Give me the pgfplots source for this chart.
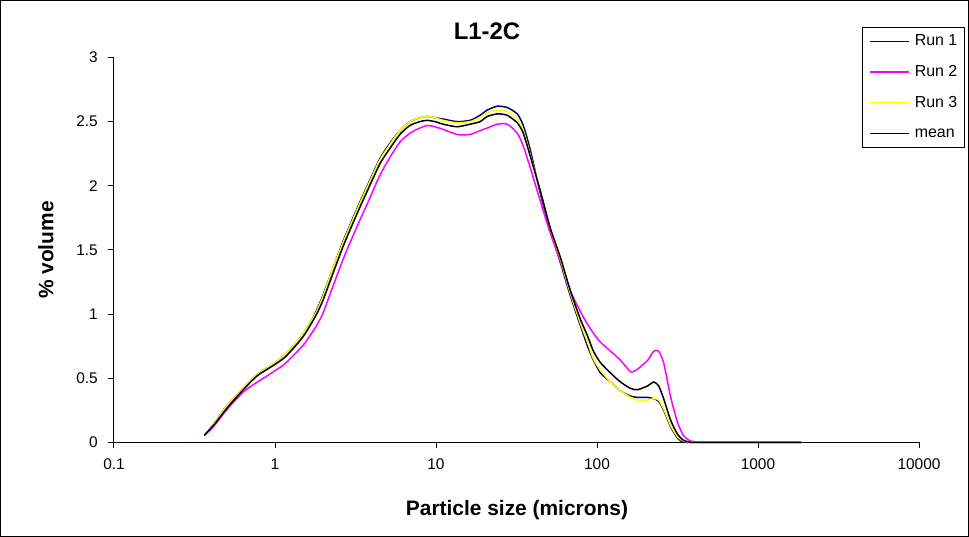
\documentclass[border=0pt]{standalone}
\usepackage{pgfplots}
\usepackage{pgfplotstable}
\pgfplotsset{compat=1.18}
\usepackage{fontspec}
\setmainfont{Liberation Sans}
\definecolor{runone}{RGB}{0,0,128}
\definecolor{runtwo}{RGB}{255,0,255}
\definecolor{runthree}{RGB}{255,255,0}
\pgfplotstableread{
x      r1    r2    r3    mean
0.364  0.054 0.054 0.054 0.054
0.420  0.15  0.13  0.15  0.14
0.506  0.29  0.26  0.29  0.27
0.646  0.43  0.40  0.43  0.42
0.778  0.53  0.47  0.53  0.52
0.951  0.60  0.54  0.60  0.59
1.146  0.68  0.61  0.68  0.66
1.381  0.79  0.71  0.79  0.77
1.527  0.86  0.77  0.86  0.84
1.688  0.95  0.85  0.95  0.93
1.814  1.03  0.91  1.02  1.00
1.977  1.14  1.00  1.13  1.10
2.281  1.35  1.21  1.35  1.31
2.635  1.56  1.42  1.55  1.52
2.911  1.69  1.55  1.68  1.65
3.360  1.87  1.73  1.86  1.83
3.716  1.99  1.85  1.98  1.95
4.477  2.21  2.08  2.20  2.17
5.166  2.33  2.22  2.32  2.29
5.966  2.43  2.34  2.43  2.40
6.887  2.50  2.41  2.50  2.47
7.947  2.53  2.45  2.53  2.50
8.790  2.54  2.47  2.54  2.51
9.86   2.53  2.46  2.53  2.50
11.06  2.52  2.44  2.51  2.48
13.52  2.50  2.40  2.49  2.46
16.29  2.51  2.40  2.50  2.48
18.79  2.55  2.43  2.53  2.50
20.80  2.59  2.45  2.57  2.54
23.99  2.62  2.48  2.59  2.56
27.68  2.61  2.48  2.58  2.55
31.99  2.56  2.41  2.52  2.49
34.83  2.47  2.31  2.43  2.41
38.53  2.28  2.14  2.24  2.23
44.46  1.94  1.88  1.96  1.96
51.29  1.65  1.63  1.67  1.67
59.29  1.40  1.41  1.43  1.44
68.39  1.14  1.18  1.16  1.18
78.89  0.91  1.02  0.93  0.96
87.30  0.75  0.92  0.78  0.83
95.06  0.64  0.85  0.65  0.71
105.2  0.54  0.78  0.56  0.62
121.4  0.47  0.71  0.47  0.54
140.0  0.40  0.64  0.40  0.47
161.8  0.36  0.55  0.35  0.42
178.6  0.35  0.57  0.33  0.41
206.5  0.35  0.64  0.33  0.44
224.9  0.34  0.71  0.34  0.47
241.5  0.32  0.71  0.33  0.44
259.4  0.25  0.62  0.26  0.34
287.1  0.12  0.35  0.13  0.17
317.5  0.03  0.15  0.04  0.06
346.0  0.00  0.05  0.01  0.015
382.7  0     0.01  0     0
441.6  0     0     0     0
903.6  0     0     0     0
1854   0     0     0     0
}\datatable
\begin{document}
\begin{tikzpicture}
\useasboundingbox (0,0) rectangle (969bp,537bp);
\draw[black, line width=1bp] (0.5bp,0.5bp) rectangle (968.5bp,536.5bp);
\begin{axis}[
  at={(114bp,94.7bp)}, anchor=south west,
  scale only axis, width=805bp, height=384.8bp,
  xmode=log, log basis x=10,
  xmin=0.1, xmax=10000, ymin=0, ymax=3,
  axis lines*=left,
  axis line style={black, line width=1bp},
  tick align=outside,
  major tick length=6bp,
  tick style={black, line width=1bp},
  xminorticks=false, yminorticks=false,
  xtick={0.1,1,10,100,1000,10000},
  xticklabels={0.1,1,10,100,1000,10000},
  ytick={0,0.5,1,1.5,2,2.5,3},
  yticklabels={0,0.5,1,1.5,2,2.5,3},
  /pgf/number format/assume math mode=true,
  ticklabel style={font=\fontsize{15.5}{18}\selectfont},
  yticklabel style={inner sep=0pt, xshift=-10bp},
  xticklabel style={inner sep=0pt, yshift=-10bp},
  title={L1-2C},
  title style={at={(0.4634,1.0533)}, anchor=center, font=\bfseries\fontsize{24}{28}\selectfont},
  xlabel={Particle size (microns)},
  xlabel style={at={(0.5006,-0.176)}, anchor=center, font=\bfseries\fontsize{21}{25}\selectfont},
  ylabel={\% volume},
  ylabel style={at={(-0.0845,0.4997)}, anchor=center, rotate=0, font=\bfseries\fontsize{21}{25}\selectfont},
  legend style={at={(0.9292,1.0793)}, anchor=north west, draw=black, line width=0.8bp,
    font=\fontsize{16}{19}\selectfont, inner xsep=7bp, inner ysep=6.5bp,
    row sep=15.7bp, column sep=5bp,
    nodes={inner sep=0pt, text height=12bp, text depth=3bp}},
  legend cell align=left,
  legend image code/.code={\draw[#1, line width=1.4bp] (0bp,0bp) -- (39bp,0bp);},
  clip=false,
]
\addplot[runone, line width=1.5bp, smooth, tension=0.4] table[x=x, y=r1] {\datatable};
\addlegendentry{Run 1}
\addplot[runtwo, line width=1.5bp, smooth, tension=0.4] table[x=x, y=r2] {\datatable};
\addlegendentry{Run 2}
\addplot[runthree, line width=1.5bp, smooth, tension=0.4] table[x=x, y=r3] {\datatable};
\addlegendentry{Run 3}
\addplot[black, line width=1.5bp, smooth, tension=0.4] table[x=x, y=mean] {\datatable};
\addlegendentry{mean}
\end{axis}
\end{tikzpicture}
\end{document}
